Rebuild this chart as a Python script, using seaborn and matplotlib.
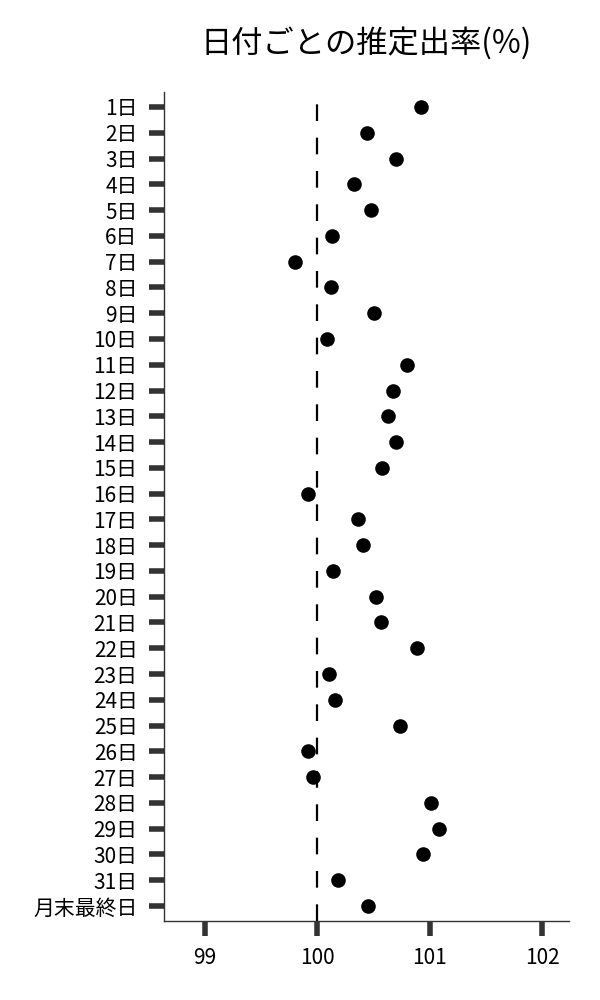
import matplotlib
matplotlib.use("Agg")
import matplotlib.pyplot as plt
import seaborn as sns
import pandas as pd

days = [f"{i}日" for i in range(1, 32)] + ["月末最終日"]
rates = [100.92, 100.44, 100.70, 100.33, 100.48, 100.13, 99.80, 100.12,
         100.50, 100.09, 100.80, 100.67, 100.63, 100.70, 100.58, 99.92,
         100.36, 100.41, 100.14, 100.52, 100.57, 100.89, 100.10, 100.16,
         100.74, 99.92, 99.96, 101.01, 101.08, 100.94, 100.18, 100.45]
x_ticks = [99, 100, 101, 102]
ref_value = 100
title = "日付ごとの推定出率(%)"

df = pd.DataFrame({"day": days, "rate": rates})

sns.set_theme(style="white")
plt.rcParams['font.family'] = ['Noto Sans CJK JP', 'DejaVu Sans']

fig = plt.figure(figsize=(6, 10), dpi=100)
ax = fig.add_axes([0.2733, 0.079, 0.9483 - 0.2733, 0.908 - 0.079])

sns.stripplot(data=df, x="rate", y="day", order=days, jitter=False,
              color="black", size=10.5, linewidth=0, orient="h", ax=ax, zorder=3)

ax.axvline(ref_value, color="black", lw=1.6, ls=(0, (7.5, 7.5)), zorder=2)

ax.set_xlim(98.635, 102.24)
ax.set_ylim(len(days) - 1 + 0.58, -0.58)
ax.set_xticks(x_ticks)
ax.set_xticklabels([str(t) for t in x_ticks])
ax.set_xlabel("")
ax.set_ylabel("")

for s in ["top", "right"]:
    ax.spines[s].set_visible(False)
for s in ["left", "bottom"]:
    ax.spines[s].set_color("#333333")
    ax.spines[s].set_linewidth(1.0)

ax.tick_params(axis="both", which="major", length=11, width=4, color="#333333",
               labelsize=15, labelcolor="black")
ax.tick_params(axis="y", pad=8, left=True, direction="out")
ax.tick_params(axis="x", pad=8, bottom=True, direction="out")

ax.set_title(title, fontsize=22.5, pad=28, color="black")

fig.savefig("out.png", dpi=100)
